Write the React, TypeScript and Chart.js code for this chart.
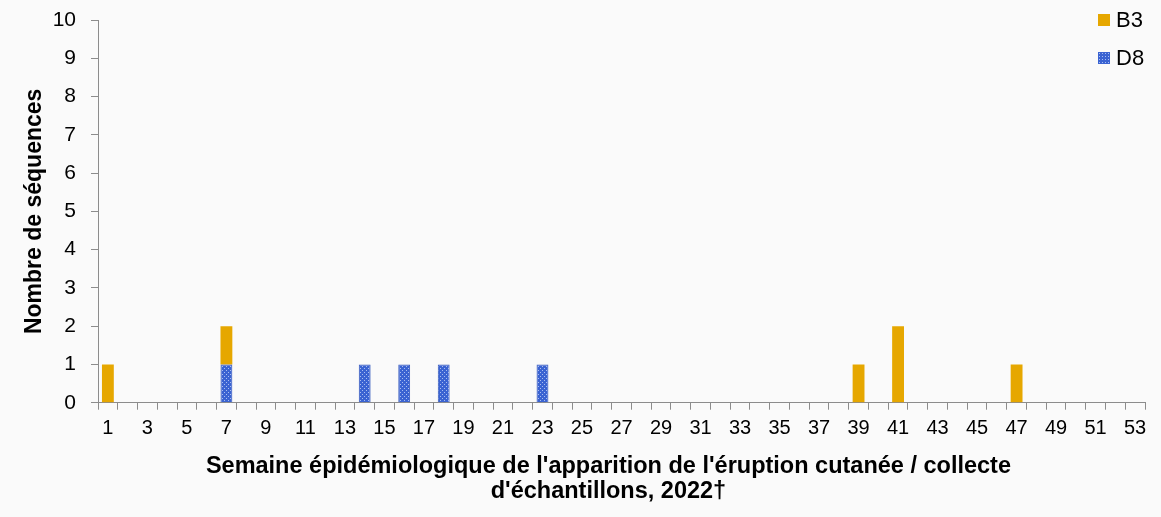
import { useEffect, useRef } from "react"
import { Chart, registerables } from "chart.js"

Chart.register(...registerables)

// Weeks 1..53
const weeks = Array.from({ length: 53 }, (_, i) => String(i + 1))

const b3Weeks = [1, 7, 39, 41, 47]
const b3Counts = [1, 1, 1, 2, 1]
const d8Weeks = [7, 14, 16, 18, 23]
const d8Counts = [1, 1, 1, 1, 1]

const yTicks = [0, 1, 2, 3, 4, 5, 6, 7, 8, 9, 10]

const toSeries = (w: number[], c: number[]) =>
    weeks.map((label) => {
        const idx = w.indexOf(Number(label))
        return idx >= 0 ? c[idx] : 0
    })

const FONT = "'Liberation Sans', Arial, sans-serif"
// trailing spaces nudge the centred title a little to the left, like the original
const NUDGE = "\u00a0".repeat(4)

function makeDotPattern() {
    const tile = document.createElement("canvas")
    tile.width = 4
    tile.height = 4
    const c = tile.getContext("2d")!
    c.fillStyle = "#3a63d2"
    c.fillRect(0, 0, 4, 4)
    c.fillStyle = "#a9bdf0"
    c.fillRect(0, 0, 1, 1)
    c.fillRect(2, 2, 1, 1)
    return c.createPattern(tile, "repeat")!
}

export default function App() {
    const canvasRef = useRef<HTMLCanvasElement>(null)
    const chartRef = useRef<Chart | null>(null)

    useEffect(() => {
        document.body.style.margin = "0"
        document.body.style.background = "#fafafa"
        if (!canvasRef.current) return
        if (chartRef.current) chartRef.current.destroy()

        const ctx = canvasRef.current.getContext("2d")
        if (!ctx) return

        chartRef.current = new Chart(ctx, {
            type: "bar",
            data: {
                labels: weeks,
                datasets: [
                    {
                        label: "D8",
                        data: toSeries(d8Weeks, d8Counts),
                        backgroundColor: makeDotPattern(),
                        borderColor: "#3558bd",
                        borderWidth: 1,
                    },
                    {
                        label: "B3",
                        data: toSeries(b3Weeks, b3Counts),
                        backgroundColor: "#e6a700",
                        borderWidth: 0,
                    },
                ],
            },
            options: {
                responsive: false,
                animation: false,
                layout: { padding: { top: 0, right: 16, left: 21, bottom: 13 } },
                datasets: { bar: { barPercentage: 0.6, categoryPercentage: 1 } },
                plugins: {
                    legend: { display: false },
                    tooltip: { enabled: false },
                },
                scales: {
                    x: {
                        stacked: true,
                        offset: true,
                        border: { display: true, color: "#8c8c8c", width: 1 },
                        grid: {
                            offset: true,
                            drawOnChartArea: false,
                            drawTicks: true,
                            tickLength: 7,
                            color: "#8c8c8c",
                        },
                        ticks: {
                            autoSkip: false,
                            maxRotation: 0,
                            color: "#000",
                            padding: 7,
                            font: { family: FONT, size: 20 },
                            callback: (_v, i) => (i % 2 === 0 ? weeks[i] : ""),
                        },
                        title: {
                            display: true,
                            text: [
                                "Semaine épidémiologique de l'apparition de l'éruption cutanée / collecte" + NUDGE,
                                "d'échantillons, 2022†" + NUDGE,
                            ],
                            color: "#000",
                            padding: { top: 6, bottom: 0 },
                            font: { family: FONT, size: 23.5, weight: "bold", lineHeight: 1.07 },
                        },
                    },
                    y: {
                        stacked: true,
                        min: 0,
                        max: 10,
                        afterBuildTicks: (axis) => {
                            axis.ticks = yTicks.map((v) => ({ value: v }))
                        },
                        afterFit: (scale) => {
                            scale.width = 77
                            scale.paddingTop = 20
                        },
                        border: { display: true, color: "#8c8c8c", width: 1 },
                        grid: {
                            drawOnChartArea: false,
                            drawTicks: true,
                            tickLength: 7,
                            color: "#8c8c8c",
                        },
                        ticks: {
                            color: "#000",
                            padding: 15,
                            font: { family: FONT, size: 21, lineHeight: 1 },
                        },
                        title: {
                            display: true,
                            text: "Nombre de séquences",
                            color: "#000",
                            padding: { top: 0, bottom: 0 },
                            font: { family: FONT, size: 23, weight: "bold" },
                        },
                    },
                },
            },
        })

        return () => {
            if (chartRef.current) {
                chartRef.current.destroy()
                chartRef.current = null
            }
        }
    }, [])

    const legendItem = (label: string, swatch: React.CSSProperties) => (
        <div style={{ display: "flex", alignItems: "center", height: 38 }}>
            <span style={{ width: 12, height: 12, marginRight: 6, display: "inline-block", ...swatch }} />
            <span>{label}</span>
        </div>
    )

    return (
        <div style={{ position: "relative", width: 1161, height: 517, background: "#fafafa" }}>
            <canvas ref={canvasRef} width={1161} height={517} style={{ display: "block" }} />
            <div
                style={{
                    position: "absolute",
                    left: 1098,
                    top: 1,
                    fontFamily: FONT,
                    fontSize: 22,
                    color: "#000",
                }}
            >
                {legendItem("B3", { background: "#e6a700" })}
                {legendItem("D8", {
                    backgroundColor: "#3a63d2",
                    backgroundImage: "radial-gradient(#a9bdf0 0.6px, transparent 0.8px)",
                    backgroundSize: "3px 3px",
                })}
            </div>
        </div>
    )
}
